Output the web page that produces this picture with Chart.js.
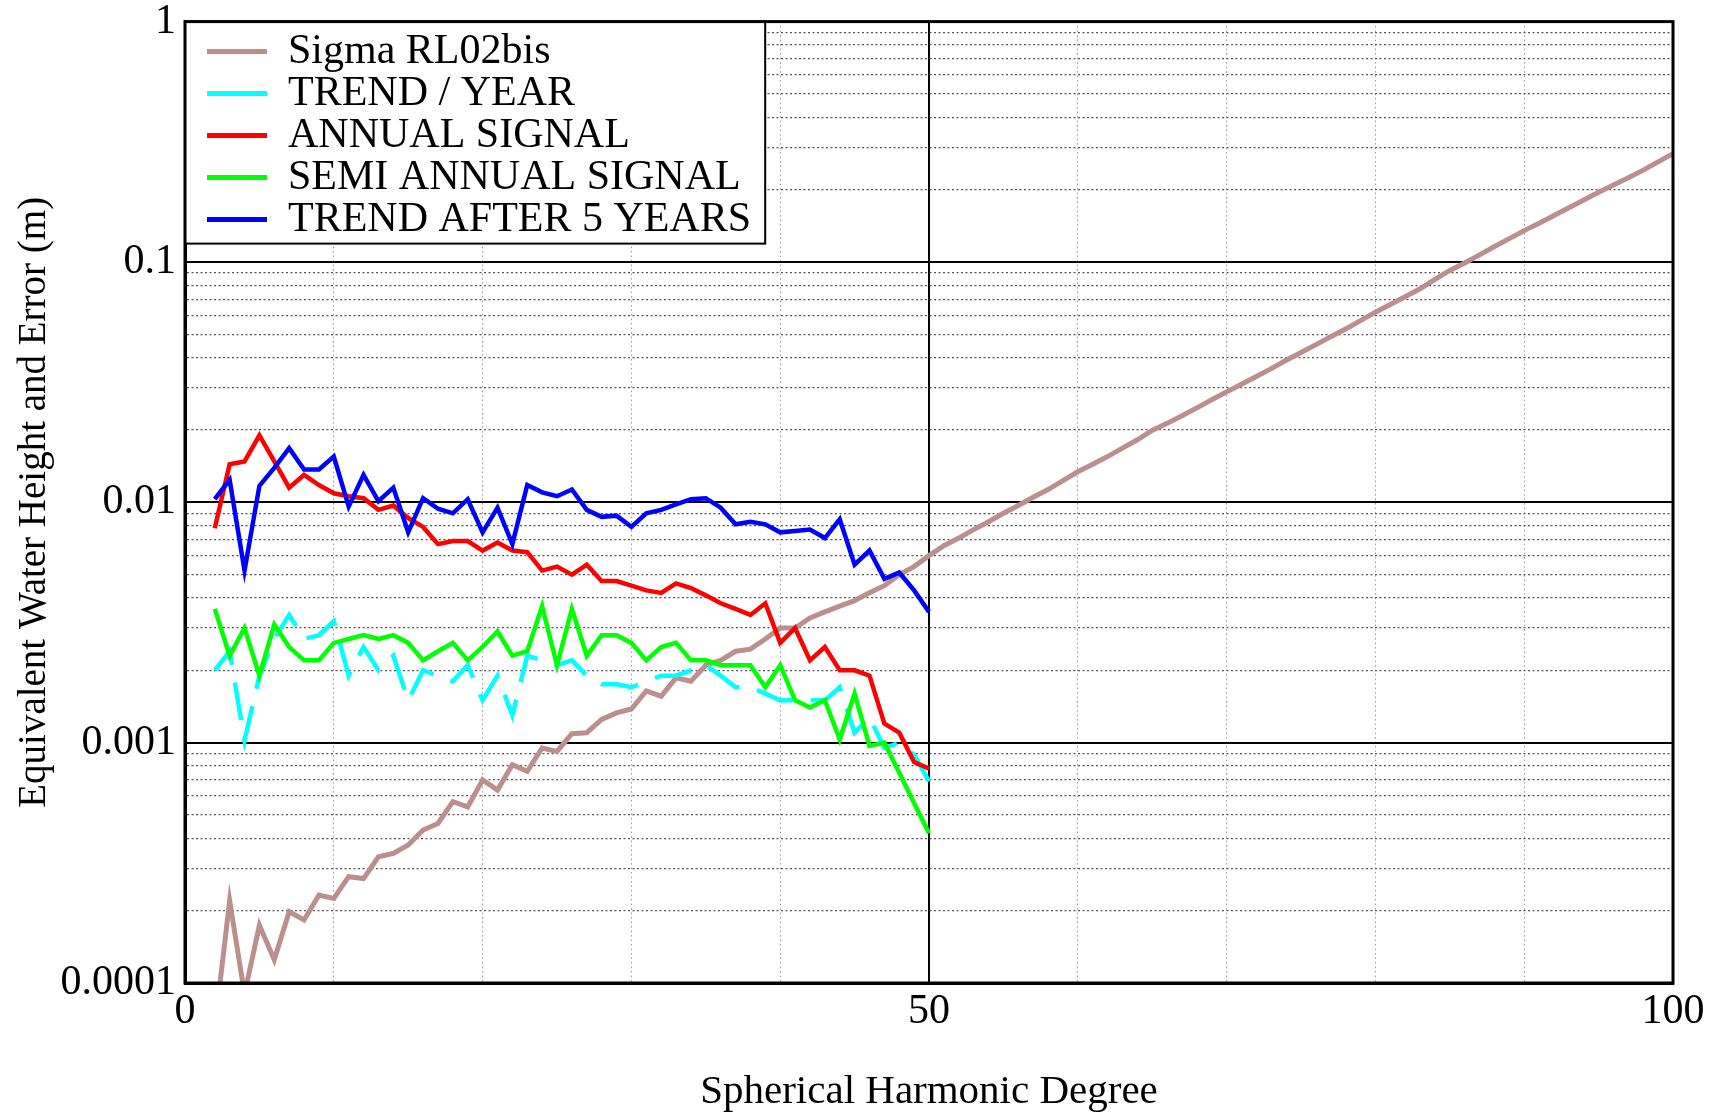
<!DOCTYPE html>
<html>
<head>
<meta charset="utf-8">
<script src="https://cdn.jsdelivr.net/npm/chart.js@4.4.1/dist/chart.umd.min.js"></script>
<style>
  body { margin: 0; background: #fff; }
  #wrap { width: 1720px; height: 1113px; }
</style>
</head>
<body>
<div id="wrap"><canvas id="ErrChart" width="1720" height="1113"></canvas></div>
<script>
// degrees 2..100
var degrees = [2,3,4,5,6,7,8,9,10,11,12,13,14,15,16,17,18,19,20,21,22,23,24,25,26,27,28,29,30,31,32,33,34,35,36,37,38,39,40,41,42,43,44,45,46,47,48,49,50,
  51,52,53,54,55,56,57,58,59,60,61,62,63,64,65,66,67,68,69,70,71,72,73,74,75,76,77,78,79,80,81,82,83,84,85,86,87,88,89,90,91,92,93,94,95,96,97,98,99,100];

var sigmaRL02bis = [0.000065,0.00022,0.00009,0.000174,0.000125,0.000198,0.000183,0.000232,0.000225,0.000277,0.000272,0.000335,0.000346,0.000375,0.000433,0.000461,0.000568,0.00054,0.0007,0.000635,
  0.00081,0.00076,0.00095,0.00092,0.00109,0.0011,0.00125,0.00133,0.00138,0.00164,0.00156,0.00186,0.0018,0.0021,0.0022,0.0024,0.00245,0.0027,0.0030,0.0030,
  0.0033,0.0035,0.0037,0.0039,0.0042,0.0045,0.0050,0.0054,0.0060,
  0.0066,0.0071,0.0077,0.0083,0.0090,0.0097,0.0105,0.0113,0.0123,0.0134,0.0144,0.0155,0.0168,0.0182,0.0199,0.0213,0.0229,0.0247,0.0267,0.0288,
  0.031,0.0334,0.036,0.039,0.042,0.0453,0.0488,0.0526,0.057,0.0618,0.0665,0.0716,0.0773,0.0846,0.0922,0.099,0.107,0.116,0.125,0.135,
  0.145,0.156,0.168,0.181,0.195,0.209,0.224,0.241,0.261,0.282];

var trendYear = [0.0020,0.0024,0.00102,0.0019,0.0027,0.0034,0.0027,0.0028,0.0032,0.0019,0.0025,0.0020,0.0023,0.0015,0.0020,0.0019,0.0018,0.0021,0.0015,0.0019,
  0.0013,0.0023,0.0022,0.0021,0.0022,0.0019,0.00175,0.00175,0.0017,0.0018,0.0019,0.0019,0.0020,0.0021,0.0019,0.0017,0.0017,0.0016,0.0015,0.0015,
  0.0015,0.0015,0.0017,0.0011,0.00127,0.00095,0.0010,0.00089,0.00069];

var annualSignal = [0.0078,0.0144,0.0148,0.019,0.0148,0.0115,0.013,0.0118,0.0109,0.0106,0.0104,0.0093,0.0097,0.0086,0.0079,0.0067,0.0069,0.0069,0.0063,0.0068,
  0.0063,0.0062,0.0052,0.0054,0.0050,0.0055,0.0047,0.0047,0.0045,0.0043,0.0042,0.0046,0.0044,0.0041,0.0038,0.0036,0.0034,0.0038,0.0026,0.0030,
  0.0022,0.0025,0.0020,0.0020,0.0019,0.0012,0.0011,0.00083,0.00078];

var semiAnnualSignal = [0.0036,0.0023,0.0030,0.0019,0.0031,0.0025,0.0022,0.0022,0.0026,0.0027,0.0028,0.0027,0.0028,0.0026,0.0022,0.0024,0.0026,0.0022,0.0025,0.0029,
  0.0023,0.0024,0.0037,0.0021,0.0036,0.0023,0.0028,0.0028,0.0026,0.0022,0.0025,0.0026,0.0022,0.0022,0.0021,0.0021,0.0021,0.0017,0.0021,0.0015,
  0.0014,0.0015,0.00103,0.0016,0.00097,0.0010,0.00075,0.00056,0.00042];

var trendAfter5 = [0.0103,0.0124,0.0052,0.0117,0.0139,0.0168,0.0137,0.0137,0.0155,0.0096,0.0130,0.0101,0.0115,0.0075,0.0104,0.0094,0.0090,0.0103,0.0075,0.0095,
  0.0067,0.0118,0.0110,0.0106,0.0113,0.0093,0.0087,0.0088,0.0079,0.0090,0.0093,0.0098,0.0103,0.0104,0.0095,0.0081,0.0083,0.0081,0.0075,0.0076,
  0.0077,0.0071,0.0085,0.0055,0.0063,0.0048,0.0051,0.0043,0.0035];

var seriesNames = ['Sigma RL02bis', 'TREND / YEAR', 'ANNUAL SIGNAL', 'SEMI ANNUAL SIGNAL', 'TREND AFTER 5 YEARS'];

// axis ticks
var xTickLabels = [0, 50, 100];
var yMajorTicks = [0.0001, 0.001, 0.01, 0.1, 1];
var yMajorLabels = ['0.0001', '0.001', '0.01', '0.1', '1'];
var yGridValues = [0.0001,0.0002,0.0003,0.0004,0.0005,0.0006,0.0007,0.0008,0.0009,
  0.001,0.002,0.003,0.004,0.005,0.006,0.007,0.008,0.009,
  0.01,0.02,0.03,0.04,0.05,0.06,0.07,0.08,0.09,
  0.1,0.2,0.3,0.4,0.5,0.6,0.7,0.8,0.9,1];

var FONT = '"Liberation Serif", "Times New Roman", serif';

function pts(vals) {
  return vals.map(function(v, i) { return {x: degrees[i], y: v}; });
}
function majorIndex(v) {
  for (var i = 0; i < yMajorTicks.length; i++) {
    if (Math.abs(v - yMajorTicks[i]) / yMajorTicks[i] < 1e-6) return i;
  }
  return -1;
}

// white legend box inside the plot, legend moved into it
var legendBox = {
  id: 'legendBox',
  afterLayout: function(chart) {
    var lg = chart.legend, ca = chart.chartArea;
    lg.left = ca.left + 22;
    lg.top = ca.top + 9;
    lg.right = lg.left + lg.width;
    lg.bottom = lg.top + lg.height;
  },
  beforeDatasetsDraw: function(chart) {
    var ctx = chart.ctx, lg = chart.legend, ca = chart.chartArea;
    var lo = lg.options.labels;
    ctx.save();
    ctx.font = lo.font.size + 'px ' + FONT;
    var maxW = 0;
    lg.legendItems.forEach(function(it) { maxW = Math.max(maxW, ctx.measureText(it.text).width); });
    var right = lg.left + lo.padding + lo.boxWidth + lo.font.size / 2 + maxW + 14;
    var bottom = lg.top + lo.padding + lg.legendItems.length * (lo.font.size + lo.padding) + 3;
    ctx.fillStyle = '#fff';
    ctx.fillRect(ca.left, ca.top, right - ca.left, bottom - ca.top);
    ctx.strokeStyle = '#000';
    ctx.lineWidth = 2;
    ctx.strokeRect(ca.left, ca.top, right - ca.left, bottom - ca.top);
    ctx.restore();
    lg.draw();
  },
  afterDatasetsDraw: function(chart) {
    var ctx = chart.ctx, ca = chart.chartArea;
    ctx.save();
    ctx.strokeStyle = '#000';
    ctx.lineWidth = 3;
    ctx.strokeRect(ca.left, ca.top, ca.right - ca.left, ca.bottom - ca.top);
    ctx.restore();
  }
};

var ctx = document.getElementById('ErrChart');
var ErrChart = new Chart(ctx, {
  type: 'line',
  data: {
    datasets: [{
      label: seriesNames[0], data: pts(sigmaRL02bis), borderColor: '#bc8f8f', borderWidth: 5, order: 5
    }, {
      label: seriesNames[1], data: pts(trendYear), borderColor: '#00ffff', borderDash: [38, 18], order: 4
    }, {
      label: seriesNames[2], data: pts(annualSignal), borderColor: '#ff0000', order: 3
    }, {
      label: seriesNames[3], data: pts(semiAnnualSignal), borderColor: '#00ff00', order: 2
    }, {
      label: seriesNames[4], data: pts(trendAfter5), borderColor: '#0000ff', order: 1
    }]
  },
  options: {
    responsive: false,
    animation: false,
    layout: { padding: { top: 21, right: 47, left: 0, bottom: 0 } },
    elements: {
      line: { borderWidth: 4.5, tension: 0, fill: false },
      point: { radius: 0 }
    },
    plugins: {
      tooltip: { enabled: false },
      legend: {
        position: 'chartArea',
        align: 'start',
        labels: {
          color: '#000',
          font: { family: FONT, size: 42 },
          boxWidth: 60,
          boxHeight: 5,
          padding: 0,
          sort: function(a, b) { return a.datasetIndex - b.datasetIndex; },
          generateLabels: function(chart) {
            var items = Chart.defaults.plugins.legend.labels.generateLabels(chart);
            items.forEach(function(it) {
              it.fillStyle = it.strokeStyle;
              it.lineWidth = 0;
              it.lineDash = [];
            });
            return items;
          }
        }
      }
    },
    scales: {
      x: {
        type: 'linear',
        min: 0,
        max: 100,
        afterFit: function(s) { s.height = 130; },
        ticks: {
          stepSize: 10,
          autoSkip: false,
          maxRotation: 0,
          color: '#000',
          padding: 4,
          font: { family: FONT, size: 42 },
          callback: function(v) { return xTickLabels.indexOf(v) >= 0 ? String(v) : ''; }
        },
        grid: {
          drawTicks: false,
          color: function(c) { return c.tick && c.tick.value === 50 ? '#000' : '#999'; },
          lineWidth: function(c) { return c.tick && c.tick.value === 50 ? 2 : 1; }
        },
        border: {
          color: '#000',
          width: 3,
          dash: function(c) { return c.tick && c.tick.value === 50 ? [] : [1.5, 3]; }
        },
        title: {
          display: true,
          text: 'Spherical Harmonic Degree',
          color: '#000',
          font: { family: FONT, size: 41, lineHeight: 1 },
          padding: { top: 0, bottom: 0 }
        }
      },
      y: {
        type: 'logarithmic',
        min: 0.0001,
        max: 1,
        afterFit: function(s) { s.width = 185; },
        afterBuildTicks: function(s) {
          s.ticks = yGridValues.map(function(v) { return { value: v }; });
        },
        ticks: {
          autoSkip: false,
          color: '#000',
          padding: 9,
          font: { family: FONT, size: 42, lineHeight: 0.6 },
          callback: function(v) {
            var i = majorIndex(v);
            return i >= 0 ? yMajorLabels[i] : '';
          }
        },
        grid: {
          drawTicks: false,
          color: function(c) { return c.tick && majorIndex(c.tick.value) >= 0 ? '#000' : '#555'; },
          lineWidth: function(c) { return c.tick && majorIndex(c.tick.value) >= 0 ? 2 : 1.2; }
        },
        border: {
          color: '#000',
          width: 3,
          dash: function(c) { return c.tick && majorIndex(c.tick.value) >= 0 ? [] : [2, 2.5]; }
        },
        title: {
          display: true,
          text: 'Equivalent Water Height and Error (m)',
          color: '#000',
          font: { family: FONT, size: 39 },
          padding: { top: 11, bottom: 0 }
        }
      }
    }
  },
  plugins: [legendBox]
});
</script>
</body>
</html>
